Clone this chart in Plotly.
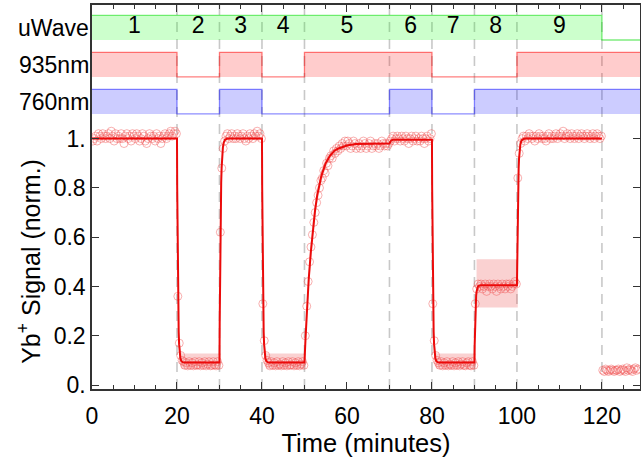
import plotly.graph_objects as go

# ---------------- data ----------------
segment_labels = ["1", "2", "3", "4", "5", "6", "7", "8", "9", "10"]
segment_centers = [10, 25, 35, 45, 60, 75, 85, 95, 110, 131.5]
boundaries = [20, 30, 40, 50, 70, 80, 90, 100, 120]

# laser / microwave states (step functions)
uwave_t = [0, 120, 140]
uwave_on = [1, 0, 0]
l935_t = [0, 20, 30, 40, 50, 80, 100, 140]
l935_on = [1, 0, 1, 0, 1, 0, 1, 1]
l760_t = [0, 20, 30, 40, 70, 80, 90, 140]
l760_on = [1, 0, 1, 0, 1, 0, 1, 1]

row_names = ["uWave", "935nm", "760nm"]
row_base = [1.40, 1.25, 1.10]

# measured signal (sampled every 20 s starting at 0.2 min)
sig_seg1 = [0.99, 1.00, 1.01, 0.99, 1.02, 1.01, 1.00, 1.02, 1.01, 1.00,
            1.01, 1.02, 1.00, 1.03, 1.01, 0.99, 1.02, 1.00, 1.01, 1.00,
            1.02, 1.00, 0.98, 1.01, 1.02, 1.00, 1.01, 0.99, 1.02, 1.01,
            1.00, 1.02, 1.01, 0.99, 1.00, 1.02, 1.01, 0.99, 0.98, 1.00,
            1.02, 1.01, 1.00, 1.01, 0.99, 1.02, 1.00, 1.01, 0.98, 1.00,
            1.01, 1.02, 1.00, 1.01, 1.02, 1.03, 1.01, 1.02, 1.03, 1.02]
sig_seg2 = [0.36, 0.17, 0.12, 0.10, 0.095, 0.08, 0.09, 0.078, 0.095, 0.08,
            0.09, 0.078, 0.095, 0.08, 0.082, 0.095, 0.078, 0.09, 0.08, 0.095,
            0.078, 0.085, 0.095, 0.078, 0.08, 0.095, 0.082, 0.078, 0.095, 0.08]
sig_seg3 = [0.62, 0.88, 0.96, 0.99, 1.01, 1.02, 1.00, 1.01, 1.02, 1.00,
            1.01, 1.00, 1.02, 1.01, 1.00, 1.01, 1.02, 1.00, 0.99, 1.01,
            1.00, 1.02, 1.01, 1.00, 1.02, 1.01, 1.03, 1.01, 1.02, 1.00]
sig_seg4 = [0.33, 0.18, 0.12, 0.10, 0.09, 0.078, 0.095, 0.08, 0.09, 0.078,
            0.095, 0.08, 0.085, 0.078, 0.095, 0.08, 0.09, 0.078, 0.095, 0.08,
            0.082, 0.095, 0.078, 0.09, 0.08, 0.095, 0.078, 0.085, 0.095, 0.08]
sig_seg5 = [0.20, 0.32, 0.42, 0.50, 0.56, 0.61, 0.66, 0.70, 0.74, 0.77,
            0.80, 0.83, 0.84, 0.87, 0.86, 0.90, 0.89, 0.92, 0.93, 0.92,
            0.95, 0.94, 0.96, 0.95, 0.97, 0.96, 0.98, 0.97, 0.99, 0.97,
            0.99, 0.98, 0.96, 0.97, 0.99, 0.98, 0.96, 0.97, 0.98, 0.96,
            0.97, 0.99, 0.98, 0.96, 0.97, 0.98, 0.99, 0.96, 0.97, 0.98,
            0.97, 0.98, 0.96, 0.97, 0.99, 0.98, 0.97, 0.98, 0.97, 0.98]
sig_seg6 = [0.99, 1.00, 1.01, 0.99, 1.00, 1.01, 1.00, 0.99, 1.01, 1.00,
            0.99, 1.01, 1.00, 0.98, 1.00, 1.01, 0.99, 1.00, 1.01, 0.99,
            1.00, 0.99, 1.01, 1.00, 0.98, 1.00, 1.01, 0.99, 1.00, 1.02]
sig_seg7 = [0.33, 0.18, 0.12, 0.10, 0.09, 0.08, 0.095, 0.078, 0.09, 0.08,
            0.095, 0.078, 0.085, 0.08, 0.095, 0.078, 0.09, 0.08, 0.095, 0.078,
            0.085, 0.095, 0.08, 0.078, 0.09, 0.095, 0.08, 0.078, 0.095, 0.08]
sig_seg8 = [0.33, 0.39, 0.41, 0.40, 0.41, 0.39, 0.40, 0.41, 0.38, 0.40,
            0.41, 0.40, 0.39, 0.41, 0.40, 0.38, 0.41, 0.40, 0.39, 0.41,
            0.40, 0.39, 0.41, 0.40, 0.41, 0.39, 0.40, 0.41, 0.42, 0.41]
sig_seg9 = [0.84, 0.94, 0.98, 1.00, 1.01, 0.99, 1.01, 1.00, 1.02, 1.01,
            1.00, 1.01, 0.99, 1.01, 1.00, 1.02, 1.01, 1.00, 1.01, 1.00,
            0.99, 1.01, 1.02, 1.00, 1.01, 1.00, 1.01, 1.02, 1.00, 1.01,
            1.02, 1.01, 1.03, 1.00, 1.01, 1.02, 1.01, 1.00, 1.02, 1.01,
            1.00, 1.01, 1.02, 1.00, 1.01, 1.02, 1.01, 1.00, 1.01, 1.02,
            1.01, 1.00, 1.01, 1.02, 1.00, 1.01, 1.02, 1.01, 1.00, 1.01]
sig_seg10 = [0.06, 0.055, 0.065, 0.06, 0.055, 0.06, 0.065, 0.06, 0.055, 0.06,
             0.06, 0.065, 0.055, 0.06, 0.065, 0.06, 0.055, 0.07, 0.06, 0.065,
             0.06, 0.055, 0.065, 0.07, 0.06, 0.065]

# fitted model curve
fit_t = [0, 20.0,
         20.05, 20.1, 20.2, 20.3, 20.4, 20.5, 20.65, 20.8, 21.0, 21.3, 21.8, 30.0,
         30.05, 30.1, 30.2, 30.3, 30.4, 30.5, 30.65, 30.8, 31.0, 31.3, 31.8, 40.0,
         40.05, 40.1, 40.2, 40.3, 40.4, 40.5, 40.65, 40.8, 41.0, 41.3, 41.8, 50.0,
         50.25, 50.5, 51, 51.5, 52, 52.5, 53, 53.5, 54, 55, 56, 57, 58, 60, 62, 70,
         70.3, 70.7, 80.0,
         80.05, 80.1, 80.2, 80.3, 80.4, 80.5, 80.65, 80.8, 81.0, 81.3, 81.8, 90.0,
         90.05, 90.1, 90.2, 90.3, 90.4, 90.5, 90.65, 90.8, 91.0, 91.5, 100.0,
         100.05, 100.1, 100.2, 100.3, 100.4, 100.5, 100.65, 100.8, 101.0, 101.3, 101.8, 120.0]
fit_v = [1.0, 1.0,
         0.80, 0.64, 0.43, 0.29, 0.215, 0.166, 0.127, 0.108, 0.098, 0.093, 0.092, 0.092,
         0.25, 0.39, 0.59, 0.73, 0.82, 0.88, 0.93, 0.963, 0.984, 0.995, 1.0, 1.0,
         0.80, 0.64, 0.43, 0.29, 0.215, 0.166, 0.127, 0.108, 0.098, 0.093, 0.092, 0.092,
         0.19, 0.28, 0.43, 0.54, 0.64, 0.71, 0.77, 0.81, 0.85, 0.90, 0.93, 0.95, 0.96, 0.972, 0.978, 0.98,
         0.99, 0.995, 0.995,
         0.80, 0.64, 0.43, 0.29, 0.215, 0.166, 0.127, 0.108, 0.098, 0.093, 0.092, 0.092,
         0.161, 0.215, 0.29, 0.335, 0.363, 0.379, 0.393, 0.399, 0.403, 0.405, 0.405,
         0.51, 0.60, 0.73, 0.82, 0.88, 0.92, 0.956, 0.976, 0.989, 0.996, 1.0, 1.0]

# confidence bands of the fit
low_band_t = [20.5, 20.65, 20.8, 21.0, 21.3, 30.3]
low_band_hi = [0.20, 0.165, 0.145, 0.133, 0.128, 0.128]
low_band_lo = [0.13, 0.09, 0.075, 0.068, 0.065, 0.065]
low_band_starts = [0, 20, 60]  # offsets for segments 2, 4, 7

rise_band_t = [50.1, 50.5, 51, 51.5, 52, 53, 54, 55, 56, 57, 58, 60]
rise_band_hi = [0.17, 0.32, 0.47, 0.58, 0.675, 0.80, 0.875, 0.92, 0.945, 0.962, 0.97, 0.978]
rise_band_lo = [0.09, 0.24, 0.39, 0.50, 0.605, 0.74, 0.825, 0.88, 0.915, 0.938, 0.95, 0.962]

mid_band_t = [90.5, 100.2]
mid_band_hi = [0.51, 0.51]
mid_band_lo = [0.315, 0.315]

y_tick_vals = [0, 0.2, 0.4, 0.6, 0.8, 1.0]
y_tick_text = ["0.", "0.2", "0.4", "0.6", "0.8", "1."]

# ---------------- figure ----------------
FONT = "Liberation Sans, Arial, sans-serif"
signal = (sig_seg1 + sig_seg2 + sig_seg3 + sig_seg4 + sig_seg5 + sig_seg6
          + sig_seg7 + sig_seg8 + sig_seg9 + sig_seg10)
t_sig = [round(0.2 + k / 3, 4) for k in range(len(signal))]

fig = go.Figure()

# state rows
rows = [(uwave_t, uwave_on, "rgba(0,220,0,0.5)", "rgba(0,255,0,0.2)"),
        (l935_t, l935_on, "rgba(255,0,0,0.5)", "rgba(255,0,0,0.2)"),
        (l760_t, l760_on, "rgba(0,0,255,0.45)", "rgba(0,0,255,0.2)")]
for (tt, on, lc, fc), base in zip(rows, row_base):
    fig.add_trace(go.Scatter(x=[tt[0], tt[-1]], y=[base, base], mode="lines",
                             line=dict(width=0), hoverinfo="skip", showlegend=False))
    fig.add_trace(go.Scatter(x=tt, y=[base + 0.1 * s for s in on], mode="lines",
                             line=dict(color=lc, width=1.3, shape="hv"),
                             fill="tonexty", fillcolor=fc,
                             hoverinfo="skip", showlegend=False))

band_fill = "rgba(235,70,70,0.25)"
for off in low_band_starts:
    xs = [v + off for v in low_band_t]
    fig.add_trace(go.Scatter(x=xs + xs[::-1], y=low_band_hi + low_band_lo[::-1],
                             fill="toself", fillcolor=band_fill, line=dict(width=0),
                             mode="lines", hoverinfo="skip", showlegend=False))
fig.add_trace(go.Scatter(x=rise_band_t + rise_band_t[::-1],
                         y=rise_band_hi + rise_band_lo[::-1],
                         fill="toself", fillcolor=band_fill, line=dict(width=0),
                         mode="lines", hoverinfo="skip", showlegend=False))
fig.add_trace(go.Scatter(x=mid_band_t + mid_band_t[::-1],
                         y=mid_band_hi + mid_band_lo[::-1],
                         fill="toself", fillcolor=band_fill, line=dict(width=0),
                         mode="lines", hoverinfo="skip", showlegend=False))

# data points
fig.add_trace(go.Scatter(x=t_sig, y=signal, mode="markers",
                         marker=dict(symbol="circle-open", size=8,
                                     color="rgba(240,80,80,0.45)",
                                     line=dict(width=1, color="rgba(240,80,80,0.45)")),
                         showlegend=False))
# fit
fig.add_trace(go.Scatter(x=fit_t, y=fit_v, mode="lines",
                         line=dict(color="rgb(235,10,10)", width=2),
                         showlegend=False))

# segment numbers
fig.add_trace(go.Scatter(x=segment_centers, y=[1.45] * len(segment_centers),
                         mode="text", text=segment_labels, textposition="middle center",
                         textfont=dict(family=FONT, size=23, color="black"),
                         cliponaxis=False, showlegend=False, hoverinfo="skip"))

for b in boundaries:
    fig.add_shape(type="line", x0=b, x1=b, y0=0, y1=1, xref="x", yref="paper",
                  line=dict(color="#c8c8c8", width=1.6, dash="10px,7px"), layer="below")

for name, base in zip(row_names, row_base):
    fig.add_annotation(x=0, xref="paper", y=base + 0.05, yref="y", text=name,
                       showarrow=False, xanchor="right", yanchor="middle", xshift=-1,
                       font=dict(family=FONT, size=23, color="black"))

# y-axis title centred on the 0..1 signal range
fig.add_annotation(x=0, xref="paper", y=0.5, yref="y", text="Yb<sup>+</sup> Signal (norm.)",
                   textangle=-90, showarrow=False, xanchor="center", yanchor="middle",
                   xshift=-63, font=dict(family=FONT, size=25, color="black"))

axis_common = dict(showline=True, linecolor="#333", linewidth=1.5, mirror="ticks",
                   ticks="inside", ticklen=7, tickwidth=1.3, tickcolor="#333",
                   showgrid=False, zeroline=False,
                   tickfont=dict(family=FONT, size=23, color="black"))

fig.update_xaxes(range=[0, 128.96], tick0=0, dtick=20,
                 minor=dict(tick0=0, dtick=5, ticks="inside", ticklen=4,
                            tickcolor="#333", tickwidth=1.2),
                 title=dict(text="Time (minutes)", standoff=2,
                            font=dict(family=FONT, size=25.5, color="black")),
                 ticklabelstandoff=6,
                 **axis_common)
fig.update_yaxes(range=[-0.016, 1.542], tickmode="array", tickvals=y_tick_vals,
                 ticktext=y_tick_text, **axis_common)

# canvas one pixel wider than the window so the right frame edge falls just outside
fig.update_layout(width=642, height=459, margin=dict(l=92, r=0, t=5, b=70),
                  plot_bgcolor="white", paper_bgcolor="white",
                  font=dict(family=FONT, size=23, color="black"),
                  showlegend=False)

fig.write_html("out.html", config={"displayModeBar": False},
               post_script="document.body.style.margin='0';document.body.style.overflow='hidden';")
